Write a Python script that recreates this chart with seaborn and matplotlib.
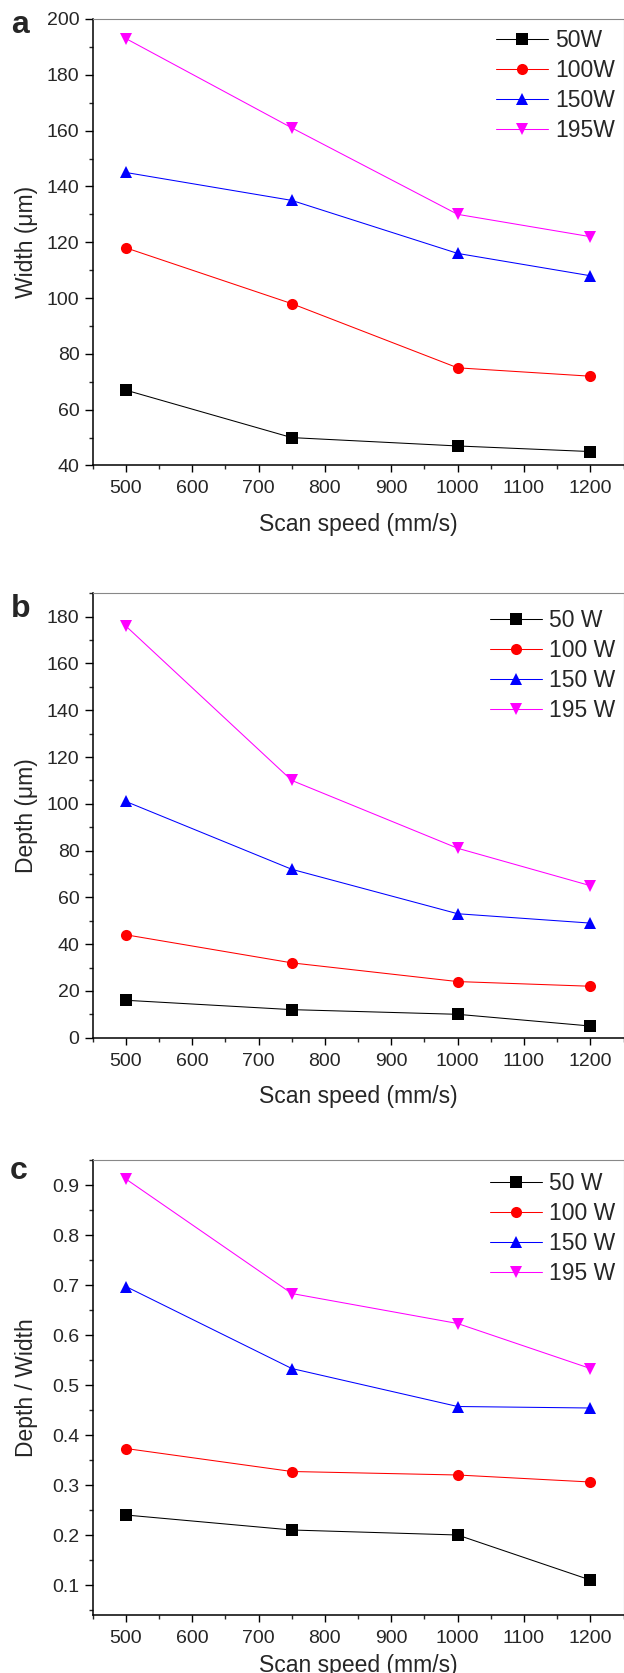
import numpy as np
import pandas as pd
import matplotlib
matplotlib.use("Agg")
import matplotlib.pyplot as plt
from matplotlib.ticker import MultipleLocator
import seaborn as sns

# Data
speed = [500, 750, 1000, 1200]
powers = ["50", "100", "150", "195"]

width_50 = [67, 50, 47, 45]
width_100 = [118, 98, 75, 72]
width_150 = [145, 135, 116, 108]
width_195 = [193, 161, 130, 122]

depth_50 = [16, 12, 10, 5]
depth_100 = [44, 32, 24, 22]
depth_150 = [101, 72, 53, 49]
depth_195 = [176, 110, 81, 65]

ratio_50 = [0.24, 0.21, 0.20, 0.11]
ratio_100 = [0.373, 0.327, 0.32, 0.306]
ratio_150 = [0.697, 0.533, 0.457, 0.454]
ratio_195 = [0.912, 0.683, 0.623, 0.533]

colors = ["#000000", "#ff0000", "#0000ff", "#ff00ff"]
markers = ["s", "o", "^", "v"]


def long_df(series):
    rows = []
    for p, vals in zip(powers, series):
        for s, v in zip(speed, vals):
            rows.append({"speed": s, "value": v, "power": p})
    return pd.DataFrame(rows)


sns.set_style("ticks")
plt.rcParams["font.family"] = ["Liberation Sans", "DejaVu Sans"]

fig = plt.figure(figsize=(6.24, 16.73), dpi=100)
H = 1673.0
W = 624.0

# panel geometry in pixels (top, bottom of the axes box)
panels = [
    dict(top=19, bottom=465.5, ylim=(40, 200), major=20, minor=10,
         ylabel="Width (\u03bcm)", letter="a", lpos=(20, 25),
         series=[width_50, width_100, width_150, width_195], sep="",
         legtop=29, xlab=47.5),
    dict(top=593.3, bottom=1037.7, ylim=(0, 190), major=20, minor=10,
         ylabel="Depth (\u03bcm)", letter="b", lpos=(21, 609),
         series=[depth_50, depth_100, depth_150, depth_195], sep=" ",
         legtop=609, xlab=47.5),
    dict(top=1160, bottom=1615, ylim=(0.04, 0.95), major=0.1, minor=0.05,
         ylabel="Depth / Width", letter="c", lpos=(19, 1171),
         series=[ratio_50, ratio_100, ratio_150, ratio_195], sep=" ",
         legtop=1172, xlab=39),
]

left_px, right_px = 92.7, 623.5

for p in panels:
    ax = fig.add_axes([left_px / W, 1 - p["bottom"] / H,
                       (right_px - left_px) / W, (p["bottom"] - p["top"]) / H])
    df = long_df(p["series"])
    sns.lineplot(data=df, x="speed", y="value", hue="power", style="power",
                 hue_order=powers, style_order=powers, palette=colors,
                 markers=markers, dashes=False, errorbar=None, legend=False,
                 linewidth=0.75, markersize=8, markeredgewidth=0, ax=ax)

    ax.set_xlim(450, 1250)
    ax.set_ylim(*p["ylim"])
    ax.xaxis.set_major_locator(MultipleLocator(100))
    ax.xaxis.set_minor_locator(MultipleLocator(50))
    ax.yaxis.set_major_locator(MultipleLocator(p["major"]))
    ax.yaxis.set_minor_locator(MultipleLocator(p["minor"]))
    if p["letter"] == "c":
        ax.yaxis.set_major_formatter(plt.FuncFormatter(lambda v, _: f"{v:.1f}"))

    ax.tick_params(axis="both", which="major", direction="out", labelsize=14,
                   width=1, color="black")
    ax.tick_params(axis="x", which="major", length=4.8, pad=6)
    ax.tick_params(axis="y", which="major", length=5.5, pad=4)
    ax.tick_params(axis="both", which="minor", direction="out", length=3, width=1)

    for side in ["left", "bottom"]:
        ax.spines[side].set_color("black")
        ax.spines[side].set_linewidth(1.1)
    for side in ["top", "right"]:
        ax.spines[side].set_color("#888888")
        ax.spines[side].set_linewidth(0.8)

    hgt = p["bottom"] - p["top"]
    ax.set_xlabel("Scan speed (mm/s)", fontsize=16.5)
    ax.xaxis.set_label_coords(0.5, -p["xlab"] / hgt)
    ax.set_ylabel(p["ylabel"], fontsize=16.5)
    ax.yaxis.set_label_coords((38 - left_px) / (right_px - left_px), 0.5)

    labels = [pw + p["sep"] + "W" for pw in powers]
    ax.legend(ax.lines[:4], labels, loc="upper right",
              bbox_to_anchor=(615 / W, 1 - p["legtop"] / H),
              bbox_transform=fig.transFigure, frameon=False, fontsize=16.5,
              borderpad=0, borderaxespad=0, handlelength=2.27,
              handletextpad=0.3, labelspacing=0.3)

    fig.text(p["lpos"][0] / W, 1 - p["lpos"][1] / H, p["letter"],
             fontsize=23, fontweight="bold", ha="center", va="center")

fig.savefig("out.png", dpi=100)
plt.close(fig)
